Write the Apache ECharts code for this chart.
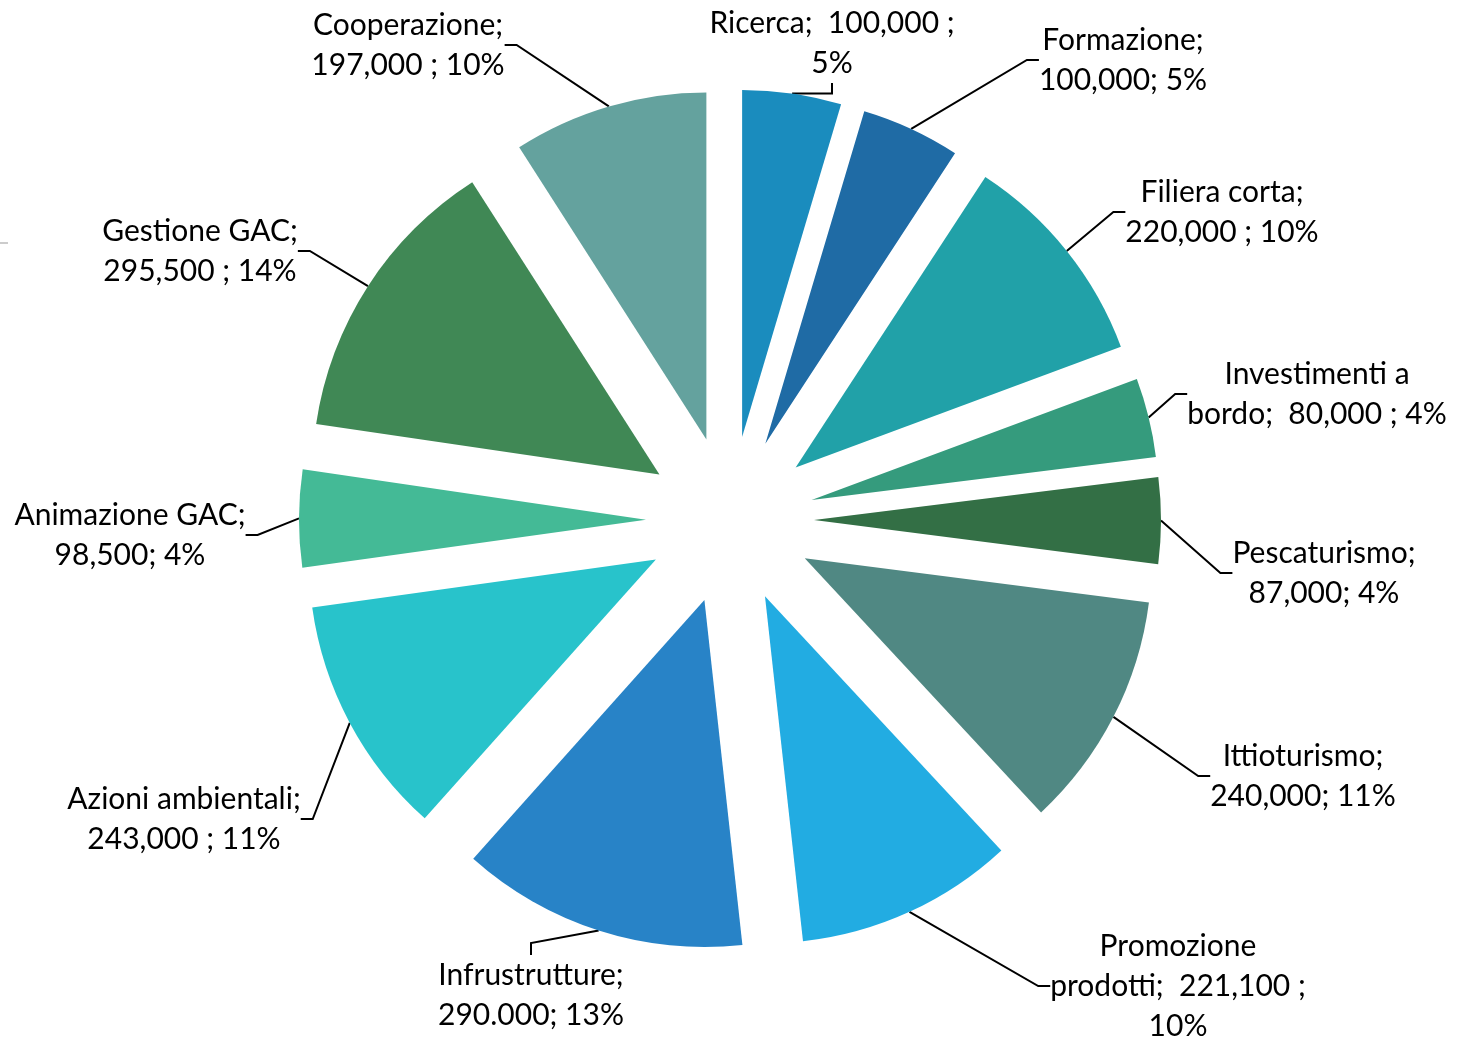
<!DOCTYPE html>
<html>
<head>
<meta charset="utf-8">
<script src="https://cdn.jsdelivr.net/npm/echarts@6/dist/echarts.min.js"></script>
<style>
  html, body { margin: 0; padding: 0; background: #fff; }
  #chart { width: 1460px; height: 1039px; }
</style>
</head>
<body>
<div id="chart"></div>
<script>
// budget split by measure, clockwise from 12 o'clock
const names = [
  'Ricerca', 'Formazione', 'Filiera corta', 'Investimenti a bordo', 'Pescaturismo',
  'Ittioturismo', 'Promozione prodotti', 'Infrustrutture', 'Azioni ambientali',
  'Animazione GAC', 'Gestione GAC', 'Cooperazione',
];
const values = [100000, 100000, 220000, 80000, 87000, 240000, 221100, 290000, 243000, 98500, 295500, 197000];
// label texts as printed on the chart
const labelTexts = [
  'Ricerca;  100,000 ;\n5%',
  'Formazione;\n100,000; 5%',
  'Filiera corta;\n220,000 ; 10%',
  'Investimenti a\nbordo;  80,000 ; 4%',
  'Pescaturismo;\n87,000; 4%',
  'Ittioturismo;\n240,000; 11%',
  'Promozione\nprodotti;  221,100 ;\n10%',
  'Infrustrutture;\n290.000; 13%',
  'Azioni ambientali;\n243,000 ; 11%',
  'Animazione GAC;\n98,500; 4%',
  'Gestione GAC;\n295,500 ; 14%',
  'Cooperazione;\n197,000 ; 10%',
];
const colors = [
  '#1A8CBE', '#1F6BA5', '#21A1A8', '#359B7D', '#336F45', '#508883',
  '#22ACE2', '#2883C7', '#28C3CB', '#44BA96', '#408855', '#64A29E',
];
// where each label box is centred (layout only)
const labelPos = [
  [832, 43], [1123, 60], [1222, 212], [1317, 394], [1324, 573], [1303, 776],
  [1178, 986], [531, 995], [184, 819], [130, 535], [200, 251], [408, 45],
];

const FONT = 'Lato, "Open Sans", sans-serif';
const CX = 730, CY = 520, R = 347, EXPLODE = 84;

// exploded pie: one pie series per slice, each shifted outward along its mid angle;
// the other slices of that series are left invisible
const total = values.reduce((a, b) => a + b, 0);
let cum = 0;
const series = values.map((v, k) => {
  const mid = 2 * Math.PI * (cum + v / 2) / total;
  cum += v;
  return {
    type: 'pie',
    center: [CX + EXPLODE * Math.sin(mid), CY - EXPLODE * Math.cos(mid)],
    radius: R,
    startAngle: 90,
    clockwise: true,
    silent: true,
    avoidLabelOverlap: false,
    emphasis: { disabled: true },
    itemStyle: { borderWidth: 0 },
    label: {
      show: true, position: 'outside', color: '#000', fontFamily: FONT, fontSize: 30,
      lineHeight: 40, align: 'center',
      formatter: (p) => labelTexts[p.dataIndex],
    },
    labelLine: { show: true, lineStyle: { color: '#000', width: 2 }, length: 20, length2: 12 },
    labelLayout: (p) => p.dataIndex === k ? {
      x: labelPos[k][0], y: labelPos[k][1], align: 'center', verticalAlign: 'middle',
    } : {},
    data: names.map((n, i) => i === k
      ? { name: n, value: values[i], itemStyle: { color: colors[i] } }
      : { name: n, value: values[i], itemStyle: { color: 'rgba(0,0,0,0)' }, label: { show: false }, labelLine: { show: false } }),
  };
});

const chart = echarts.init(document.getElementById('chart'), null, { renderer: 'canvas' });
chart.setOption({
  animation: false,
  graphic: [{ type: 'line', shape: { x1: 0, y1: 243, x2: 8, y2: 243 }, style: { stroke: '#999', lineWidth: 1 } }],
  series,
});
</script>
</body>
</html>
